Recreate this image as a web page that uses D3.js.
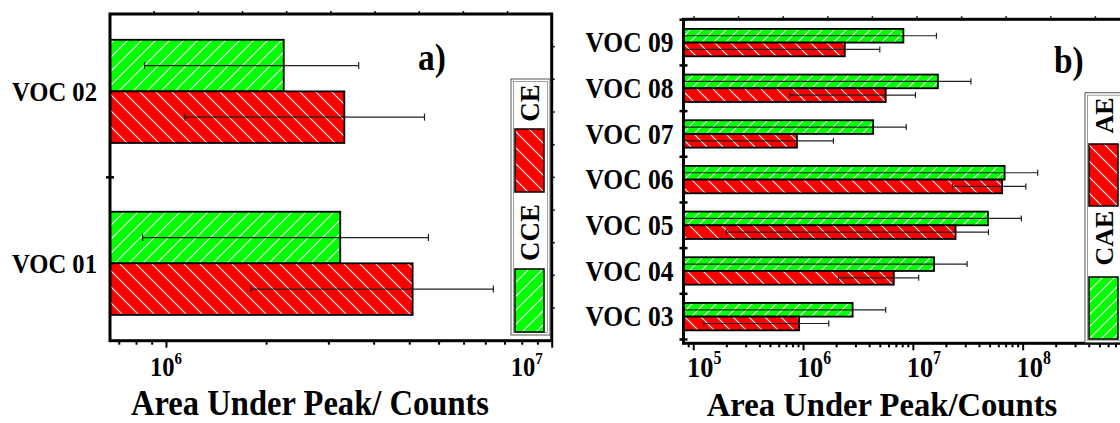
<!DOCTYPE html>
<html>
<head>
<meta charset="utf-8">
<script src="https://cdn.jsdelivr.net/npm/d3@7"></script>
<style>
  body { margin: 0; background: #fff; }
  svg { display: block; }
  text { font-family: "Liberation Serif", "Times New Roman", serif; font-weight: bold; fill: #000; }
</style>
</head>
<body>
<svg id="chart" width="1120" height="423"></svg>
<script>
// ---- Panel a: CE vs CCE ----
const catsA = ["VOC 01", "VOC 02"];
const cceA = [2.83e6, 2.02e6];
const cceErrA = [1.96e6, 1.14e6];
const ceA = [4.36e6, 2.90e6];
const ceErrA = [2.70e6, 1.78e6];
const majorTicksA = [1e6, 1e7];
const legendA = ["CCE", "CE"];

// ---- Panel b: AE vs CAE ----
const catsB = ["VOC 03", "VOC 04", "VOC 05", "VOC 06", "VOC 07", "VOC 08", "VOC 09"];
const caeB = [2.83e6, 1.56e7, 4.83e7, 6.85e7, 4.35e6, 1.69e7, 8.2e6];
const caeErrB = [2.83e6, 1.56e7, 4.9e7, 6.85e7, 4.35e6, 1.69e7, 8.2e6];
const aeB = [9.2e5, 6.7e6, 2.45e7, 6.5e7, 8.8e5, 5.66e6, 2.4e6];
const aeErrB = [7.95e5, 4.6e6, 2.43e7, 4.2e7, 1.01e6, 4.9e6, 2.6e6];
const majorTicksB = [1e5, 1e6, 1e7, 1e8];
const legendB = ["CAE", "AE"];

const axisTitleA = "Area Under Peak/ Counts";
const axisTitleB = "Area Under Peak/Counts";

const GREEN = "#00ff00", RED = "#ff0000";
const SX = 0.88;   // horizontally condensed lettering

const svg = d3.select("#chart");
const defs = svg.append("defs");

function hatch(id, fill, w, dir) {
  const p = defs.append("pattern").attr("id", id)
    .attr("patternUnits", "userSpaceOnUse").attr("width", w).attr("height", w);
  p.append("rect").attr("width", w).attr("height", w).attr("fill", fill);
  const d = dir === "/"
    ? `M0,${w} L${w},0 M-1,1 L1,-1 M${w - 1},${w + 1} L${w + 1},${w - 1}`
    : `M0,0 L${w},${w} M-1,${w - 1} L1,${w + 1} M${w - 1},-1 L${w + 1},1`;
  p.append("path").attr("d", d).attr("stroke", "#fff").attr("stroke-width", 1.1).attr("fill", "none");
}
hatch("gA", GREEN, 14, "/");
hatch("rA", RED, 16, "\\");
hatch("gB", GREEN, 12, "/");
hatch("rB", RED, 16, "\\");

// condensed text placed at (x, y)
function label(g, x, y, str, size, anchor, sx) {
  return g.append("text").attr("transform", `translate(${x},${y}) scale(${sx || SX},1)`)
    .attr("text-anchor", anchor || "start").style("font-size", size + "px").text(str);
}

function drawPanel(cfg) {
  const g = svg.append("g");
  const x = cfg.x, y = cfg.y;
  const [x0, x1] = x.range();
  const [yb, yt] = y.range();
  const dmin = x.domain()[0];
  const h = Math.abs(y(0) - y(0.3));

  // bars: green on top, red below each category centre
  cfg.cats.forEach((c, i) => {
    const cy = y(i + 1);
    const series = [
      { v: cfg.green[i], e: cfg.greenErr[i], top: cy - h, fill: `url(#${cfg.gPat})` },
      { v: cfg.red[i], e: cfg.redErr[i], top: cy, fill: `url(#${cfg.rPat})` }
    ];
    series.forEach(s => {
      g.append("rect").attr("x", x0).attr("y", s.top)
        .attr("width", x(s.v) - x0).attr("height", h)
        .attr("fill", s.fill).attr("stroke", "#000").attr("stroke-width", cfg.barStroke);
    });
    series.forEach(s => {
      const ey = s.top + h / 2;
      const lo = s.v - s.e, hi = s.v + s.e;
      const xl = lo > dmin ? x(lo) : x0;
      g.append("line").attr("x1", xl).attr("x2", x(hi)).attr("y1", ey).attr("y2", ey)
        .attr("stroke", "#222").attr("stroke-width", 1.2);
      const caps = [x(hi)];
      if (lo > dmin) caps.push(x(lo));
      caps.forEach(cx => g.append("line").attr("x1", cx).attr("x2", cx)
        .attr("y1", ey - cfg.cap).attr("y2", ey + cfg.cap).attr("stroke", "#222").attr("stroke-width", 1.2));
    });
    label(g, x0 - cfg.labelGap, cy + cfg.catFont * 0.33, c, cfg.catFont, "end");
  });

  // bottom axis: minor and major ticks
  const axMinor = d3.axisBottom(x).tickValues(cfg.minorTicks).tickSize(4).tickFormat("");
  const axMajor = d3.axisBottom(x).tickValues(cfg.majorTicks).tickSize(7).tickFormat("");
  [axMinor, axMajor].forEach(ax => {
    const a = g.append("g").attr("transform", `translate(0,${yb})`).call(ax);
    a.select(".domain").remove();
    a.selectAll("line").attr("stroke", "#000").attr("stroke-width", 2);
  });
  cfg.majorTicks.forEach((t, i) => {
    const txt = label(g, x(t) + cfg.tickDx[i], cfg.tickBase, null, cfg.tickFont, "middle");
    txt.append("tspan").text("10");
    txt.append("tspan").attr("dy", -cfg.tickFont * 0.42).style("font-size", cfg.supFont + "px")
      .text(Math.round(Math.log10(t)));
  });

  // category separators crossing the left axis
  d3.range(0.5, cfg.cats.length + 1, 1).filter(v => y(v) <= yb + 0.5 && y(v) >= yt - 0.5)
    .forEach(v => g.append("line").attr("x1", x0 - 4).attr("x2", x0 + 4)
      .attr("y1", y(v)).attr("y2", y(v)).attr("stroke", "#000").attr("stroke-width", 2.5));

  // small mirror ticks on the top (and right) edges
  cfg.topTicks.forEach(tx => g.append("line").attr("x1", tx).attr("x2", tx)
    .attr("y1", yt).attr("y2", yt - 3).attr("stroke", "#000").attr("stroke-width", 1.5));
  cfg.rightTicks.forEach(ty => g.append("line").attr("x1", x1).attr("x2", x1 + 3)
    .attr("y1", ty).attr("y2", ty).attr("stroke", "#000").attr("stroke-width", 1.5));

  // frame
  g.append("rect").attr("x", x0).attr("y", yt).attr("width", x1 - x0).attr("height", yb - yt)
    .attr("fill", "none").attr("stroke", "#000").attr("stroke-width", 3);

  // legend
  const L = cfg.legend;
  g.append("rect").attr("x", L.x).attr("y", L.y).attr("width", L.w).attr("height", L.h)
    .attr("fill", "#fff").attr("stroke", "#555").attr("stroke-width", 1);
  g.append("rect").attr("x", L.x + 2.5).attr("y", L.y + 2.5).attr("width", L.w - 5).attr("height", L.h - 5)
    .attr("fill", "none").attr("stroke", "#888").attr("stroke-width", 0.8);
  L.items.forEach(it => {
    g.append("rect").attr("x", L.sx).attr("y", it.sy).attr("width", L.sw).attr("height", L.sh)
      .attr("fill", it.fill).attr("stroke", "#000").attr("stroke-width", 1.5);
    g.append("text").attr("transform", `translate(${L.tx + L.font * 0.33},${it.ty}) rotate(-90)`)
      .attr("text-anchor", "middle").style("font-size", L.font + "px").text(it.label);
  });

  // panel tag and axis title
  label(g, cfg.tag.x, cfg.tag.y, cfg.tag.text, cfg.tag.size, "start");
  label(g, cfg.title.x, cfg.title.y, cfg.title.text, cfg.title.size, "middle", cfg.title.sx);
}

// minor tick generators
function elevenths(lo, hi) {            // linear subdivisions of each decade into 11 parts
  const out = [];
  for (let n = Math.floor(Math.log10(lo)); n < Math.log10(hi); n++)
    for (let k = 1; k <= 10; k++) { const v = Math.pow(10, n) * (1 + k * 9 / 11); if (v >= lo && v <= hi) out.push(v); }
  return out;
}
function logMinors(lo, hi) {
  const out = [];
  for (let n = Math.floor(Math.log10(lo)); n < Math.log10(hi); n++)
    for (let k = 2; k <= 9; k++) { const v = Math.pow(10, n) * k; if (v >= lo && v <= hi) out.push(v); }
  return out;
}

// ---- panel a ----
const xA = d3.scaleLog().domain([7.16e5, 1e7]).range([110, 551.7]);
const yA = d3.scaleLinear().domain([0.55, 2.45]).range([340.7, 14]);
drawPanel({
  cats: catsA, green: cceA, greenErr: cceErrA, red: ceA, redErr: ceErrA,
  x: xA, y: yA, gPat: "gA", rPat: "rA", barStroke: 1.8, cap: 3.5,
  majorTicks: majorTicksA, minorTicks: elevenths(7.16e5, 1e7),
  tickFont: 28, supFont: 17, tickBase: 376, tickDx: [0, -25],
  catFont: 28, labelGap: 13,
  topTicks: d3.range(1, 10).map(k => 110 + k * 44.17),
  rightTicks: d3.range(1, 10).map(k => 14 + k * 32.67),
  legend: {
    x: 511, y: 79, w: 39, h: 256, sx: 515, sw: 29, sh: 63, tx: 530, font: 27,
    items: [
      { label: legendA[0], fill: "url(#gA)", sy: 269, ty: 232.5 },
      { label: legendA[1], fill: "url(#rA)", sy: 129, ty: 103 }
    ]
  },
  tag: { text: "a)", x: 418, y: 70, size: 38 },
  title: { text: axisTitleA, x: 310, y: 415, size: 36, sx: 0.905 }
});

// ---- panel b ----
const xB = d3.scaleLog().domain([8.15e4, 1e9]).range([683.5, 683.5 + 109.8 * (9 - Math.log10(8.15e4))]);
const yB = d3.scaleLinear().domain([0.416, 7.51]).range([343.3, 19.3]);
drawPanel({
  cats: catsB, green: caeB, greenErr: caeErrB, red: aeB, redErr: aeErrB,
  x: xB, y: yB, gPat: "gB", rPat: "rB", barStroke: 1.8, cap: 3,
  majorTicks: majorTicksB, minorTicks: logMinors(8.15e4, 1e9),
  tickFont: 30, supFont: 18, tickBase: 377, tickDx: [11, 11, 11, 11],
  catFont: 29, labelGap: 10,
  topTicks: d3.range(0, 10).map(k => 694 + k * 44.6),
  rightTicks: [],
  legend: {
    x: 1085, y: 92.7, w: 60, h: 250, sx: 1089, sw: 29, sh: 62, tx: 1104, font: 26,
    items: [
      { label: legendB[0], fill: "url(#gB)", sy: 277, ty: 238 },
      { label: legendB[1], fill: "url(#rB)", sy: 144, ty: 115.5 }
    ]
  },
  tag: { text: "b)", x: 1054, y: 73, size: 38 },
  title: { text: axisTitleB, x: 882, y: 415.5, size: 34, sx: 0.96 }
});
</script>
</body>
</html>
